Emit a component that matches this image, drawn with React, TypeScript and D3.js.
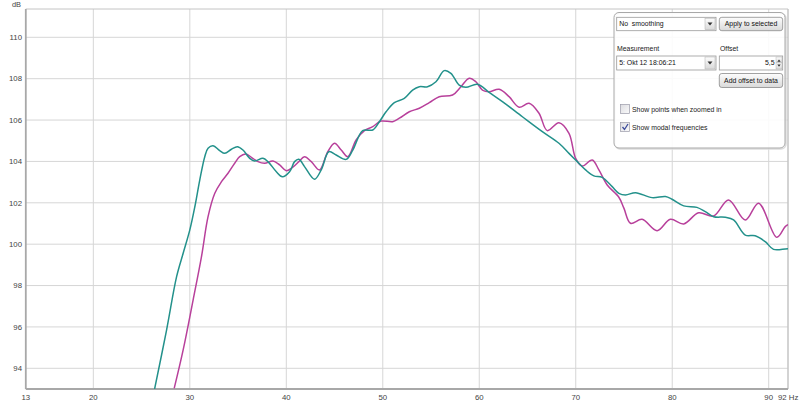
import React from 'react';
import * as d3 from 'd3';

// frequency ticks (Hz) and level ticks (dB)
const freqTicks = [13, 20, 30, 40, 50, 60, 70, 80, 90];
const dbTicks = [94, 96, 98, 100, 102, 104, 106, 108, 110];

// teal measurement
const tealHz = [26.35, 27.59, 28.63, 29.31, 30.0, 30.52, 31.03, 31.55, 31.89, 32.41, 33.1, 33.62, 34.31, 34.93, 35.51, 36.21, 36.72, 37.58, 38.1, 38.97, 39.59, 40.34, 40.86, 41.3, 41.89, 42.92, 43.62, 44.41, 45.17, 46.21, 46.89, 47.92, 48.96, 49.65, 50.34, 51.2, 52.23, 53.09, 53.79, 54.64, 55.51, 56.37, 57.06, 57.92, 58.61, 59.81, 61.02, 62.4, 64.47, 66.54, 68.26, 69.3, 70.16, 71.02, 71.88, 72.74, 73.78, 74.47, 75.16, 76.2, 77.91, 79.3, 79.98, 81.19, 82.56, 83.43, 84.29, 85.5, 86.36, 87.57, 88.6, 89.64, 90.5, 91.71, 92.0];
const tealDb = [93.0, 95.85, 98.43, 99.56, 100.69, 101.81, 103.1, 104.23, 104.64, 104.76, 104.52, 104.39, 104.59, 104.71, 104.55, 104.15, 104.02, 104.15, 103.99, 103.5, 103.26, 103.5, 103.99, 104.1, 103.75, 103.14, 103.59, 104.47, 104.31, 104.1, 104.55, 105.49, 105.52, 105.92, 106.4, 106.84, 107.05, 107.45, 107.61, 107.61, 107.85, 108.39, 108.26, 107.69, 107.58, 107.73, 107.34, 106.89, 106.16, 105.44, 104.88, 104.39, 103.99, 103.59, 103.3, 103.23, 102.78, 102.46, 102.38, 102.49, 102.25, 102.3, 102.17, 101.85, 101.78, 101.57, 101.33, 101.3, 101.17, 100.44, 100.41, 100.12, 99.75, 99.77, 99.78];

// magenta measurement
const magentaHz = [28.38, 29.31, 30.34, 31.21, 31.89, 32.59, 33.28, 33.96, 34.65, 35.17, 35.79, 36.38, 37.06, 37.76, 38.62, 39.31, 40.0, 40.68, 41.3, 41.89, 42.59, 43.44, 44.3, 45.0, 45.69, 46.37, 47.24, 48.1, 48.96, 49.83, 51.02, 51.72, 52.75, 53.79, 54.82, 55.85, 57.23, 58.1, 58.96, 59.65, 60.33, 61.02, 62.06, 63.09, 64.13, 65.16, 66.19, 67.05, 68.26, 69.3, 69.99, 70.67, 71.71, 72.4, 73.26, 74.47, 74.99, 75.68, 76.88, 78.43, 79.81, 81.19, 82.74, 84.29, 85.84, 87.57, 88.95, 90.84, 91.71, 92.0];
const magentaDb = [93.03, 94.89, 97.3, 99.4, 101.33, 102.46, 103.02, 103.43, 103.91, 104.23, 104.36, 104.2, 103.99, 103.91, 104.02, 103.83, 103.55, 103.72, 103.99, 104.23, 103.99, 103.59, 104.47, 104.88, 104.55, 104.23, 105.04, 105.49, 105.68, 105.95, 105.92, 106.09, 106.4, 106.57, 106.84, 107.13, 107.21, 107.61, 108.02, 107.85, 107.45, 107.37, 107.49, 107.13, 106.62, 106.81, 106.33, 105.49, 105.87, 105.36, 104.15, 103.78, 104.07, 103.59, 102.86, 102.27, 101.74, 101.01, 101.2, 100.65, 101.2, 100.98, 101.52, 101.36, 102.14, 101.17, 101.98, 100.33, 100.85, 100.95];

const FONT = '"Liberation Sans", Arial, sans-serif';
const UI = 6.9;

const plotTop = 9;
const plotBottom = 389;
const plotLeft = 25.8;
const plotRight = 788;

const Button = ({ x, y, w, h, label }: { x: number; y: number; w: number; h: number; label: string }) => (
  <g>
    <rect x={x} y={y} width={w} height={h} rx={2.5} fill="url(#btnGrad)" stroke="#8a8a8a" strokeWidth={0.8} />
    <text x={x + w / 2} y={y + h / 2 + 2.4} textAnchor="middle" fontSize={UI} fill="#111">{label}</text>
  </g>
);

const Combo = ({ x, y, w, h, label }: { x: number; y: number; w: number; h: number; label: string }) => (
  <g>
    <rect x={x} y={y} width={w} height={h} fill="#fff" stroke="#9a9a9a" strokeWidth={0.8} />
    <text x={x + 2.5} y={y + h / 2 + 2.4} fontSize={UI} fill="#111" xmlSpace="preserve">{label}</text>
    <rect x={x + w - 11} y={y + 1} width={10} height={h - 2} fill="url(#btnGrad)" stroke="#b0b0b0" strokeWidth={0.5} />
    <path d={`M${x + w - 8.5},${y + h / 2 - 1.5} l5,0 l-2.5,3 z`} fill="#333" />
  </g>
);

const CheckBox = ({ x, y, checked, label }: { x: number; y: number; checked: boolean; label: string }) => (
  <g>
    <rect x={x} y={y} width={9} height={9} fill="url(#chkGrad)" stroke="#9a9aa8" strokeWidth={0.7} />
    {checked && <path d={`M${x + 2},${y + 4.5} l2,2.5 l3.5,-5.5`} fill="none" stroke="#3a4a9a" strokeWidth={1.3} />}
    <text x={x + 11.5} y={y + 7.2} fontSize={UI} fill="#222">{label}</text>
  </g>
);

const Panel = () => {
  const px = 614, py = 12.5, pw = 171, ph = 135.5;
  return (
    <g fontFamily={FONT}>
      <rect x={px + 1} y={py + 1} width={pw} height={ph} rx={5} fill="none" stroke="#ddd" strokeWidth={1.5} />
      <rect x={px} y={py} width={pw} height={ph} rx={5} fill="#fff" fillOpacity={0.88} stroke="#a8a8a8" strokeWidth={1} />
      <Combo x={616.7} y={17.3} w={99.3} h={13.4} label="No  smoothing" />
      <Button x={719.3} y={17.3} w={63.4} h={13.4} label="Apply to selected" />
      <text x={617} y={51} fontSize={UI} fill="#222">Measurement</text>
      <text x={720} y={51} fontSize={UI} fill="#222">Offset</text>
      <Combo x={616.7} y={56} w={99.3} h={14} label="5: Okt 12 18:06:21" />
      <g>
        <rect x={719.3} y={56} width={63.4} height={14} fill="#fff" stroke="#9a9a9a" strokeWidth={0.8} />
        <text x={774.5} y={65.4} textAnchor="end" fontSize={UI} fill="#111">5,5</text>
        <rect x={776} y={57} width={6} height={6} fill="url(#btnGrad)" stroke="#aaa" strokeWidth={0.4} />
        <rect x={776} y={63} width={6} height={6} fill="url(#btnGrad)" stroke="#aaa" strokeWidth={0.4} />
        <path d="M777.3,61.8 l3.4,0 l-1.7,-2.4 z" fill="#333" />
        <path d="M777.3,64.4 l3.4,0 l-1.7,2.4 z" fill="#333" />
      </g>
      <Button x={719.3} y={73.5} w={63.4} h={14} label="Add offset to data" />
      <CheckBox x={620.5} y={104.5} checked={false} label="Show points when zoomed in" />
      <CheckBox x={620.5} y={122.5} checked={true} label="Show modal frequencies" />
    </g>
  );
};

const App = () => {
  const x = d3.scaleLinear().domain([13, 92]).range([plotLeft, plotRight]);
  const y = d3.scaleLinear().domain([94, 110]).range([368.3, 37.3]);

  const line = d3.line<[number, number]>()
    .x(d => x(d[0]))
    .y(d => y(d[1]))
    .curve(d3.curveCatmullRom.alpha(0.5));

  const teal = tealHz.map((h, i) => [h, tealDb[i]] as [number, number]);
  const magenta = magentaHz.map((h, i) => [h, magentaDb[i]] as [number, number]);

  return (
    <svg width={800} height={403} style={{ position: 'absolute', left: 0, top: 0, background: '#fff' }} fontFamily={FONT}>
      <defs>
        <clipPath id="plotClip">
          <rect x={plotLeft} y={plotTop} width={plotRight - plotLeft} height={plotBottom - plotTop} />
        </clipPath>
        <linearGradient id="btnGrad" x1="0" y1="0" x2="0" y2="1">
          <stop offset="0" stopColor="#fdfdfd" />
          <stop offset="1" stopColor="#d9d9d9" />
        </linearGradient>
        <linearGradient id="chkGrad" x1="0" y1="0" x2="1" y2="1">
          <stop offset="0" stopColor="#dcdce0" />
          <stop offset="1" stopColor="#fbfbfb" />
        </linearGradient>
      </defs>
      <rect x={0} y={0} width={800} height={403} fill="#fff" />

      {/* grid */}
      <g stroke="#d6d6d6" strokeWidth={1}>
        {freqTicks.filter(f => f > 13).map(f => (
          <line key={f} x1={x(f)} x2={x(f)} y1={plotTop} y2={plotBottom} />
        ))}
        {dbTicks.map(d => (
          <line key={d} x1={plotLeft} x2={plotRight} y1={y(d)} y2={y(d)} />
        ))}
      </g>

      {/* frame */}
      <line x1={plotLeft} x2={plotRight} y1={plotTop} y2={plotTop} stroke="#c4c4c4" strokeWidth={1} />
      <line x1={plotRight} x2={plotRight} y1={plotTop} y2={plotBottom} stroke="#c4c4c4" strokeWidth={1.5} />
      <line x1={plotLeft} x2={plotLeft} y1={plotTop} y2={plotBottom} stroke="#a8a8a8" strokeWidth={1.8} />
      <line x1={plotLeft} x2={plotRight} y1={plotBottom} y2={plotBottom} stroke="#a8a8a8" strokeWidth={1.8} />

      {/* curves */}
      <g clipPath="url(#plotClip)" fill="none" strokeWidth={1.5} strokeLinejoin="round">
        <path d={line(magenta) || ''} stroke="#b8409b" />
        <path d={line(teal) || ''} stroke="#23918b" />
      </g>

      {/* y tick labels */}
      <g fontSize={7.8} fill="#444" textAnchor="end">
        {dbTicks.map(d => (
          <text key={d} x={22} y={y(d) + 2.8}>{d}</text>
        ))}
        <text x={21} y={7} fontSize={7.4}>dB</text>
      </g>

      {/* x tick labels */}
      <g fontSize={7.8} fill="#444" textAnchor="middle">
        {freqTicks.map(f => (
          <text key={f} x={x(f)} y={399.5}>{f}</text>
        ))}
        <text x={778} y={399.5} textAnchor="start">92 Hz</text>
      </g>

      <Panel />
    </svg>
  );
};

export default App;
